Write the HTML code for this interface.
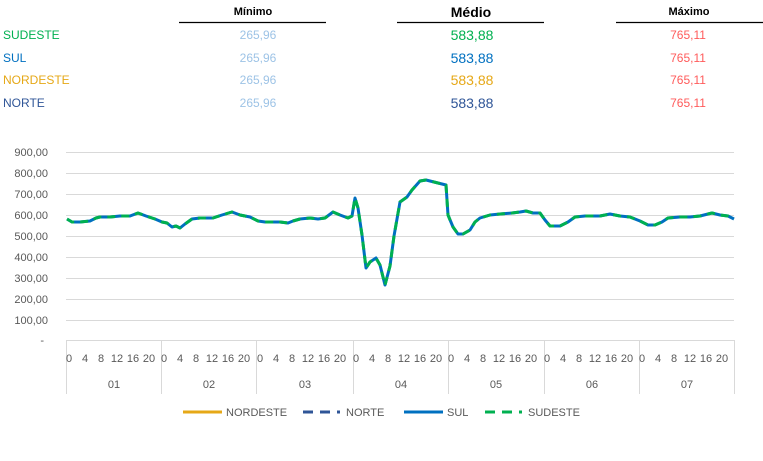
<!DOCTYPE html>
<html><head><meta charset="utf-8"><style>
body{margin:0;background:#fff;width:763px;height:456px;overflow:hidden;font-family:"Liberation Sans",sans-serif}
svg text{font-family:"Liberation Sans",sans-serif}
</style></head><body>
<svg width="763" height="456" xmlns="http://www.w3.org/2000/svg">
<!-- header -->
<g font-size="11" font-weight="bold" text-anchor="middle" fill="#000">
<text x="253" y="15">Mínimo</text>
<text x="471" y="17" font-size="14">Médio</text>
<text x="689" y="15">Máximo</text>
</g>
<g stroke="#000" stroke-width="1.2">
<line x1="179" y1="22.5" x2="326" y2="22.5"/>
<line x1="397" y1="22.5" x2="544" y2="22.5"/>
<line x1="616" y1="22.5" x2="763" y2="22.5"/>
</g>
<g font-size="12">
<text x="3" y="39" fill="#00b050">SUDESTE</text>
<text x="3" y="62" fill="#0070c0">SUL</text>
<text x="3" y="84" fill="#e6a817">NORDESTE</text>
<text x="3" y="107" fill="#2f5597">NORTE</text>
</g>
<g font-size="12" text-anchor="middle" fill="#9dc3e6">
<text x="258" y="39">265,96</text><text x="258" y="62">265,96</text><text x="258" y="84">265,96</text><text x="258" y="107">265,96</text>
</g>
<g font-size="14" text-anchor="middle">
<text x="472" y="40" fill="#00b050">583,88</text><text x="472" y="63" fill="#0070c0">583,88</text><text x="472" y="85" fill="#e6a817">583,88</text><text x="472" y="108" fill="#2f5597">583,88</text>
</g>
<g font-size="12" text-anchor="middle" fill="#ff5b5b">
<text x="688" y="39">765,11</text><text x="688" y="62">765,11</text><text x="688" y="84">765,11</text><text x="688" y="107">765,11</text>
</g>
<!-- grid -->
<g stroke="#d9d9d9" stroke-width="1">
<line x1="66" x2="734" y1="152.5" y2="152.5"/><line x1="66" x2="734" y1="173.5" y2="173.5"/>
<line x1="66" x2="734" y1="194.5" y2="194.5"/><line x1="66" x2="734" y1="215.5" y2="215.5"/>
<line x1="66" x2="734" y1="236.5" y2="236.5"/><line x1="66" x2="734" y1="257.5" y2="257.5"/>
<line x1="66" x2="734" y1="278.5" y2="278.5"/><line x1="66" x2="734" y1="299.5" y2="299.5"/>
<line x1="66" x2="734" y1="320.5" y2="320.5"/><line x1="66" x2="734" y1="340.5" y2="340.5"/>
<line x1="66.5" x2="66.5" y1="340" y2="394"/><line x1="161.5" x2="161.5" y1="340" y2="394"/>
<line x1="256.5" x2="256.5" y1="340" y2="394"/><line x1="353.5" x2="353.5" y1="340" y2="394"/>
<line x1="448.5" x2="448.5" y1="340" y2="394"/><line x1="544.5" x2="544.5" y1="340" y2="394"/>
<line x1="639.5" x2="639.5" y1="340" y2="394"/><line x1="734.5" x2="734.5" y1="340" y2="394"/>
</g>
<g font-size="11" fill="#595959" text-anchor="end">
<text x="48" y="156">900,00</text><text x="48" y="177">800,00</text><text x="48" y="198">700,00</text>
<text x="48" y="219">600,00</text><text x="48" y="240">500,00</text><text x="48" y="261">400,00</text>
<text x="48" y="282">300,00</text><text x="48" y="303">200,00</text><text x="48" y="324">100,00</text>
<text x="44" y="344">-</text>
</g>
<g font-size="11" fill="#595959" text-anchor="middle" id="ticks">
</g>
<g font-size="11" fill="#595959" text-anchor="middle">
<text x="114" y="388">01</text><text x="209" y="388">02</text><text x="305" y="388">03</text><text x="401" y="388">04</text>
<text x="496" y="388">05</text><text x="592" y="388">06</text><text x="687" y="388">07</text>
</g>
<!-- series -->
<g fill="none" stroke-linejoin="round">
<polyline id="p" stroke="#0070c0" stroke-width="3" points="67,219 72,222 80,222 90,221 96,218 100,217 110,217 120,216 130,216 138,213 146,216 155,219 162,222 167,223 172,227 176,226 180,228 185,224 192,219 200,218 213,218 222,215 232,212 240,215 250,217 258,221 265,222 280,222 288,223 293,221 300,219 310,218 318,219 325,218 333,212 340,215 348,218 352,216 355,198 358,208 362,235 366,268 370,262 376,258 380,265 385,285 390,266 394,236 400,202 407,197 412,190 420,181 426,180 434,182 446,185 448,215 453,227 458,234 463,234 470,230 475,222 480,218 490,215 500,214 512,213 520,212 526,211 533,213 540,213 545,220 550,226 556,226 560,226 568,222 575,217 585,216 600,216 610,214 620,216 630,217 640,221 648,225 655,225 662,222 668,218 680,217 690,217 700,216 712,213 720,215 728,216 734,219"/>
<polyline stroke="#00b050" stroke-width="3" stroke-dasharray="8,6" points="67,219 72,222 80,222 90,221 96,218 100,217 110,217 120,216 130,216 138,213 146,216 155,219 162,222 167,223 172,227 176,226 180,228 185,224 192,219 200,218 213,218 222,215 232,212 240,215 250,217 258,221 265,222 280,222 288,223 293,221 300,219 310,218 318,219 325,218 333,212 340,215 348,218 352,216 355,198 358,208 362,235 366,268 370,262 376,258 380,265 385,285 390,266 394,236 400,202 407,197 412,190 420,181 426,180 434,182 446,185 448,215 453,227 458,234 463,234 470,230 475,222 480,218 490,215 500,214 512,213 520,212 526,211 533,213 540,213 545,220 550,226 556,226 560,226 568,222 575,217 585,216 600,216 610,214 620,216 630,217 640,221 648,225 655,225 662,222 668,218 680,217 690,217 700,216 712,213 720,215 728,216 734,219"/>
</g>
<!-- legend -->
<line x1="183" x2="222" y1="412" y2="412" stroke="#e6a817" stroke-width="3"/>
<text x="226" y="416" font-size="11" fill="#595959">NORDESTE</text>
<line x1="303" x2="340" y1="412" y2="412" stroke="#2f5597" stroke-width="3" stroke-dasharray="10,7"/>
<text x="346" y="416" font-size="11" fill="#595959">NORTE</text>
<line x1="404" x2="443" y1="412" y2="412" stroke="#0070c0" stroke-width="3"/>
<text x="447" y="416" font-size="11" fill="#595959">SUL</text>
<line x1="485" x2="522" y1="412" y2="412" stroke="#00b050" stroke-width="3" stroke-dasharray="10,7"/>
<text x="528" y="416" font-size="11" fill="#595959">SUDESTE</text>
<!-- hour ticks -->
<g font-size="11" fill="#595959" text-anchor="middle">
<text x="69" y="362">0</text><text x="85" y="362">4</text><text x="101" y="362">8</text><text x="117" y="362">12</text><text x="133" y="362">16</text><text x="149" y="362">20</text>
<text x="164" y="362">0</text><text x="180" y="362">4</text><text x="196" y="362">8</text><text x="212" y="362">12</text><text x="228" y="362">16</text><text x="244" y="362">20</text>
<text x="260" y="362">0</text><text x="276" y="362">4</text><text x="292" y="362">8</text><text x="308" y="362">12</text><text x="324" y="362">16</text><text x="340" y="362">20</text>
<text x="356" y="362">0</text><text x="372" y="362">4</text><text x="388" y="362">8</text><text x="404" y="362">12</text><text x="420" y="362">16</text><text x="436" y="362">20</text>
<text x="451" y="362">0</text><text x="467" y="362">4</text><text x="483" y="362">8</text><text x="499" y="362">12</text><text x="515" y="362">16</text><text x="531" y="362">20</text>
<text x="547" y="362">0</text><text x="563" y="362">4</text><text x="579" y="362">8</text><text x="595" y="362">12</text><text x="611" y="362">16</text><text x="627" y="362">20</text>
<text x="642" y="362">0</text><text x="658" y="362">4</text><text x="674" y="362">8</text><text x="690" y="362">12</text><text x="706" y="362">16</text><text x="722" y="362">20</text>
</g>
</svg>
</body></html>
